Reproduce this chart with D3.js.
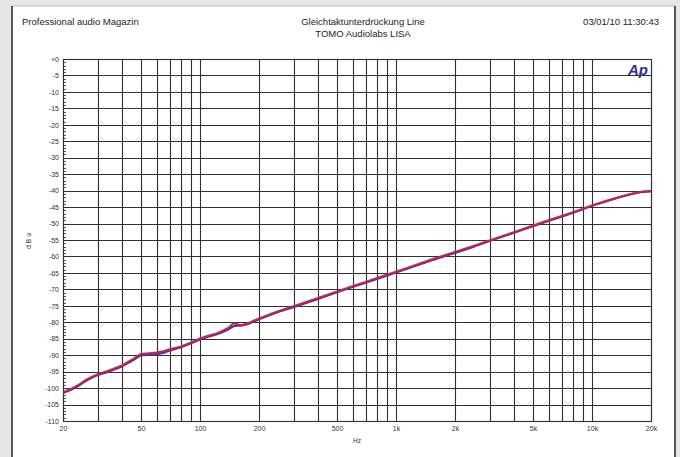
<!DOCTYPE html>
<html>
<head>
<meta charset="utf-8">
<script src="https://cdn.jsdelivr.net/npm/d3@7"></script>
<style>
  html, body { margin: 0; padding: 0; background: #e6e6e6; }
  svg { display: block; }
  text { font-family: "Liberation Sans", Arial, sans-serif; }
</style>
</head>
<body>
<svg id="chart" width="680" height="457"></svg>
<script>
// Measurement frequencies (Hz)
const freqs = [20, 22, 24, 26, 28, 30, 33, 36, 40, 45, 50, 55, 60, 65, 70, 80, 90, 100,
  110, 120, 130, 140, 148, 155, 162, 175, 200, 250, 300, 400, 500, 600, 700, 850, 1000,
  1200, 1500, 2000, 2500, 3000, 4000, 5000, 6000, 7000, 8500, 10000, 12000, 14000,
  16000, 18000, 20000];

// Common-mode rejection, channel A (red) in dBu
const redDb = [-101.2, -100.2, -99.0, -97.6, -96.6, -95.8, -95.0, -94.2, -93.1, -91.3,
  -89.6, -89.4, -89.2, -88.8, -88.2, -87.3, -86.1, -84.9, -84.1, -83.5, -82.6, -81.6,
  -80.3, -80.6, -80.9, -80.3, -78.8, -76.6, -75.1, -72.6, -70.6, -69.0, -67.7, -66.0,
  -64.6, -63.0, -61.0, -58.6, -56.7, -55.1, -52.6, -50.6, -49.0, -47.7, -46.0, -44.5,
  -43.0, -41.8, -40.9, -40.3, -40.1];

// Common-mode rejection, channel B (blue) in dBu
const blueDb = [-101.5, -100.5, -99.3, -97.9, -96.9, -96.0, -95.3, -94.5, -93.4, -91.7,
  -90.0, -89.9, -89.7, -89.3, -88.6, -87.6, -86.4, -85.2, -84.4, -83.8, -83.0, -82.1,
  -81.2, -81.0, -81.0, -80.6, -79.1, -76.9, -75.4, -72.9, -70.9, -69.3, -68.0, -66.3,
  -64.9, -63.3, -61.3, -58.9, -57.0, -55.3, -52.8, -50.8, -49.2, -47.9, -46.2, -44.6,
  -43.1, -41.9, -41.0, -40.4, -40.2];

// Axis ticks
const yTicks = d3.range(0, -111, -5);
const yTickLabels = yTicks.map(v => v === 0 ? "+0" : String(v));
const xGridFreqs = [20, 30, 40, 50, 60, 70, 80, 90, 100, 200, 300, 400, 500, 600, 700,
  800, 900, 1000, 2000, 3000, 4000, 5000, 6000, 7000, 8000, 9000, 10000, 20000];
const xTickFreqs = [20, 50, 100, 200, 500, 1000, 2000, 5000, 10000, 20000];
const xTickLabels = ["20", "50", "100", "200", "500", "1k", "2k", "5k", "10k", "20k"];

const svg = d3.select("#chart");

// Page panel
svg.append("rect").attr("x", 0).attr("y", 0).attr("width", 680).attr("height", 457)
  .attr("fill", "#e6e6e6");
svg.append("rect").attr("x", 12).attr("y", 6).attr("width", 663).attr("height", 470)
  .attr("fill", "#ffffff").attr("stroke", "#bdbdbd").attr("stroke-width", 1);
svg.append("line").attr("x1", 12).attr("x2", 12).attr("y1", 6).attr("y2", 457)
  .attr("stroke", "#5a5a5a").attr("stroke-width", 2);
svg.append("line").attr("x1", 675).attr("x2", 675).attr("y1", 6).attr("y2", 457)
  .attr("stroke", "#5a5a5a").attr("stroke-width", 2);

// Header texts
svg.append("text").attr("x", 22).attr("y", 25).attr("font-size", 9.5).attr("fill", "#1e1e1e")
  .text("Professional audio Magazin");
svg.append("text").attr("x", 363).attr("y", 25).attr("font-size", 9.5).attr("fill", "#1e1e1e")
  .attr("text-anchor", "middle").text("Gleichtaktunterdrückung Line");
svg.append("text").attr("x", 363).attr("y", 37).attr("font-size", 9.5).attr("fill", "#1e1e1e")
  .attr("text-anchor", "middle").text("TOMO Audiolabs LISA");
svg.append("text").attr("x", 659).attr("y", 25).attr("font-size", 9.5).attr("fill", "#1e1e1e")
  .attr("text-anchor", "end").text("03/01/10 11:30:43");

// Scales
const plotLeft = 63, plotRight = 651, plotTop = 59, plotBottom = 421;
const x = d3.scaleLog().domain([20, 20000]).range([plotLeft, plotRight]);
const y = d3.scaleLinear().domain([-110, 0]).range([plotBottom, plotTop]);

const gridColor = "#303030";
const plot = svg.append("g");

// Vertical grid
plot.append("g").selectAll("line").data(xGridFreqs).join("line")
  .attr("x1", d => Math.round(x(d)) + 0.5).attr("x2", d => Math.round(x(d)) + 0.5)
  .attr("y1", plotTop).attr("y2", plotBottom)
  .attr("stroke", gridColor).attr("stroke-width", 1.1);

// Horizontal grid
plot.append("g").selectAll("line").data(yTicks).join("line")
  .attr("x1", plotLeft).attr("x2", plotRight)
  .attr("y1", d => Math.round(y(d)) + 0.5).attr("y2", d => Math.round(y(d)) + 0.5)
  .attr("stroke", gridColor).attr("stroke-width", 1.1);

// Plot frame
plot.append("rect").attr("x", plotLeft + 0.5).attr("y", plotTop + 0.5)
  .attr("width", plotRight - plotLeft).attr("height", plotBottom - plotTop)
  .attr("fill", "none").attr("stroke", gridColor).attr("stroke-width", 1.1);

// Minor dB ticks along the left axis
plot.append("g").selectAll("line").data(d3.range(0, -111, -1)).join("line")
  .attr("x1", plotLeft).attr("x2", plotLeft + 3)
  .attr("y1", d => Math.round(y(d)) + 0.5).attr("y2", d => Math.round(y(d)) + 0.5)
  .attr("stroke", gridColor).attr("stroke-width", 0.8);

// Y axis labels
const yAxis = d3.axisLeft(y).tickValues(yTicks).tickSize(0).tickPadding(4)
  .tickFormat((d, i) => yTickLabels[i]);
svg.append("g").attr("transform", `translate(${plotLeft},0)`).call(yAxis)
  .call(g => g.select(".domain").remove())
  .call(g => g.selectAll("text").attr("font-size", 7).attr("fill", "#333")
    .attr("font-family", "Liberation Sans, Arial, sans-serif"));

// X axis labels
const xAxis = d3.axisBottom(x).tickValues(xTickFreqs).tickSize(0).tickPadding(5)
  .tickFormat((d, i) => xTickLabels[i]);
svg.append("g").attr("transform", `translate(0,${plotBottom})`).call(xAxis)
  .call(g => g.select(".domain").remove())
  .call(g => g.selectAll("text").attr("font-size", 7).attr("fill", "#333")
    .attr("font-family", "Liberation Sans, Arial, sans-serif"));

// Axis titles
svg.append("text").attr("x", 357).attr("y", 443).attr("font-size", 6.5).attr("fill", "#333")
  .attr("text-anchor", "middle").text("Hz");
svg.append("text").attr("transform", "translate(31,240) rotate(-90)")
  .attr("font-size", 6.5).attr("fill", "#333").attr("text-anchor", "middle")
  .attr("letter-spacing", 2).text("dBu");

// Traces
const line = d3.line().x(d => x(d[0])).y(d => y(d[1]));
const blueData = freqs.map((f, i) => [f, blueDb[i]]);
const redData = freqs.map((f, i) => [f, redDb[i]]);

plot.append("path").datum(blueData).attr("d", line)
  .attr("fill", "none").attr("stroke", "#3a3aa6").attr("stroke-width", 2.2)
  .attr("stroke-linejoin", "round");
plot.append("path").datum(redData).attr("d", line)
  .attr("fill", "none").attr("stroke", "#cc2448").attr("stroke-width", 1.9)
  .attr("stroke-linejoin", "round");

// Analyzer logo
svg.append("text").attr("x", 648).attr("y", 75).attr("text-anchor", "end")
  .attr("font-size", 15).attr("font-weight", "bold").attr("font-style", "italic")
  .attr("fill", "#2e2e9a").attr("font-family", "Liberation Sans, Arial, sans-serif")
  .text("Ap");
</script>
</body>
</html>
